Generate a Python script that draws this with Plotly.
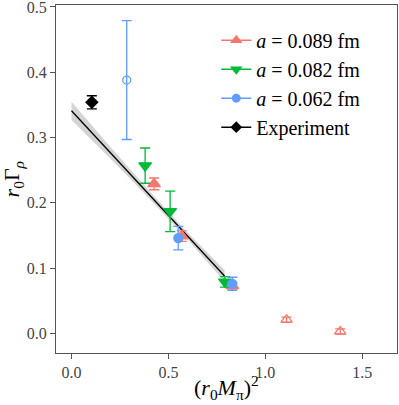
import plotly.graph_objects as go

# lattice points (filled, used in fit)
a089_x = [0.426, 0.569, 0.830]
a089_y = [0.229, 0.149, 0.073]
a089_e = [0.009, 0.008, 0.005]

a082_x = [0.380, 0.509, 0.792]
a082_y = [0.257, 0.187, 0.079]
a082_e = [0.027, 0.031, 0.008]

a062_x = [0.551, 0.830]
a062_y = [0.146, 0.076]
a062_e = [0.018, 0.010]

# excluded points (open)
a062_open_x = [0.285]
a062_open_y = [0.388]
a062_open_e = [0.091]

a089_open_x = [1.110, 1.387]
a089_open_y = [0.021, 0.003]
a089_open_e = [0.004, 0.004]

exp_x = [0.105]
exp_y = [0.354]
exp_e = [0.010]

# chiral fit and band
fit_x = [0.0, 0.2, 0.4, 0.6, 0.79]
fit_y = [0.341, 0.277, 0.213, 0.149, 0.088]
fit_lo = [0.327, 0.268, 0.207, 0.144, 0.079]
fit_hi = [0.355, 0.286, 0.219, 0.154, 0.097]

labels = ["<i>a</i> = 0.089 fm", "<i>a</i> = 0.082 fm", "<i>a</i> = 0.062 fm", "Experiment"]

red = "#F8766D"
green = "#00BA38"
blue = "#619CFF"
black = "#000000"
serif = "Liberation Serif, DejaVu Serif, serif"

fig = go.Figure()

# band
fig.add_trace(go.Scatter(x=fit_x + fit_x[::-1], y=fit_hi + fit_lo[::-1], fill="toself",
                         fillcolor="rgba(160,160,160,0.45)", line=dict(width=0),
                         mode="lines", showlegend=False, hoverinfo="skip"))
fig.add_trace(go.Scatter(x=fit_x, y=fit_y, mode="lines", line=dict(color="black", width=1.3),
                         showlegend=False))


def pts(x, y, e, color, symbol, size):
    fig.add_trace(go.Scatter(
        x=x, y=y, mode="markers",
        marker=dict(color=color, symbol=symbol, size=size, line=dict(width=1.3, color=color)),
        error_y=dict(type="data", array=e, color=color, thickness=1.3, width=5),
        showlegend=False))


pts(a062_open_x, a062_open_y, a062_open_e, blue, "circle-open", 8)
pts(a089_open_x, a089_open_y, a089_open_e, red, "triangle-up-open", 10)
pts(a089_x, a089_y, a089_e, red, "triangle-up", 11)
pts(a082_x, a082_y, a082_e, green, "triangle-down", 11)
pts(a062_x, a062_y, a062_e, blue, "circle", 9)
pts(exp_x, exp_y, exp_e, black, "diamond", 9)

# legend entries
for lab, col, sym, sz in zip(labels, [red, green, blue, black],
                             ["triangle-up", "triangle-down", "circle", "diamond"], [11, 11, 9, 9]):
    fig.add_trace(go.Scatter(x=[None], y=[None], mode="lines+markers", name=lab,
                             marker=dict(color=col, symbol=sym, size=sz),
                             line=dict(color=col, width=1.5)))

axis_common = dict(showgrid=False, zeroline=False, showline=True, linecolor="#555555",
                   linewidth=1.2, mirror=True, ticks="outside", ticklen=5, tickcolor="#555555",
                   automargin=False, ticklabeloverflow="allow",
                   tickfont=dict(family=serif, size=16, color="#444444"))

fig.update_xaxes(range=[-0.08, 1.68], tickvals=[0, 0.5, 1.0, 1.5], ticktext=["0.0", "0.5", "1.0", "1.5"],
                 **axis_common)
fig.update_yaxes(range=[-0.03, 0.503], tickvals=[0, 0.1, 0.2, 0.3, 0.4, 0.5],
                 ticktext=["0.0", "0.1", "0.2", "0.3", "0.4", "0.5"],
                 **axis_common)

fig.add_annotation(text="(<i>r</i><sub>0</sub><i>M</i><sub>π</sub>)<sup>2</sup>",
                   xref="paper", yref="paper", x=0.5, y=-0.05, xanchor="center", yanchor="top",
                   showarrow=False, font=dict(family=serif, size=22, color="black"))
fig.add_annotation(text="<i>r</i><sub>0</sub>Γ<sub><i>ρ</i></sub>", textangle=-90,
                   xref="paper", yref="paper", x=-0.125, y=0.5, xanchor="center", yanchor="middle",
                   showarrow=False, font=dict(family=serif, size=22, color="black"))

fig.update_layout(
    width=399, height=405,
    margin=dict(l=56, r=2, t=5, b=52),
    plot_bgcolor="white", paper_bgcolor="white",
    font=dict(family=serif, size=17, color="black"),
    legend=dict(x=0.47, y=0.955, xanchor="left", yanchor="top", bgcolor="rgba(0,0,0,0)",
                font=dict(family=serif, size=20), itemwidth=30, tracegroupgap=0),
)

# page body has a default 8px margin; drop it so the figure sits at the window corner
fig.write_html("out.html", config={"displayModeBar": False},
               post_script="document.body.style.margin='0';")
